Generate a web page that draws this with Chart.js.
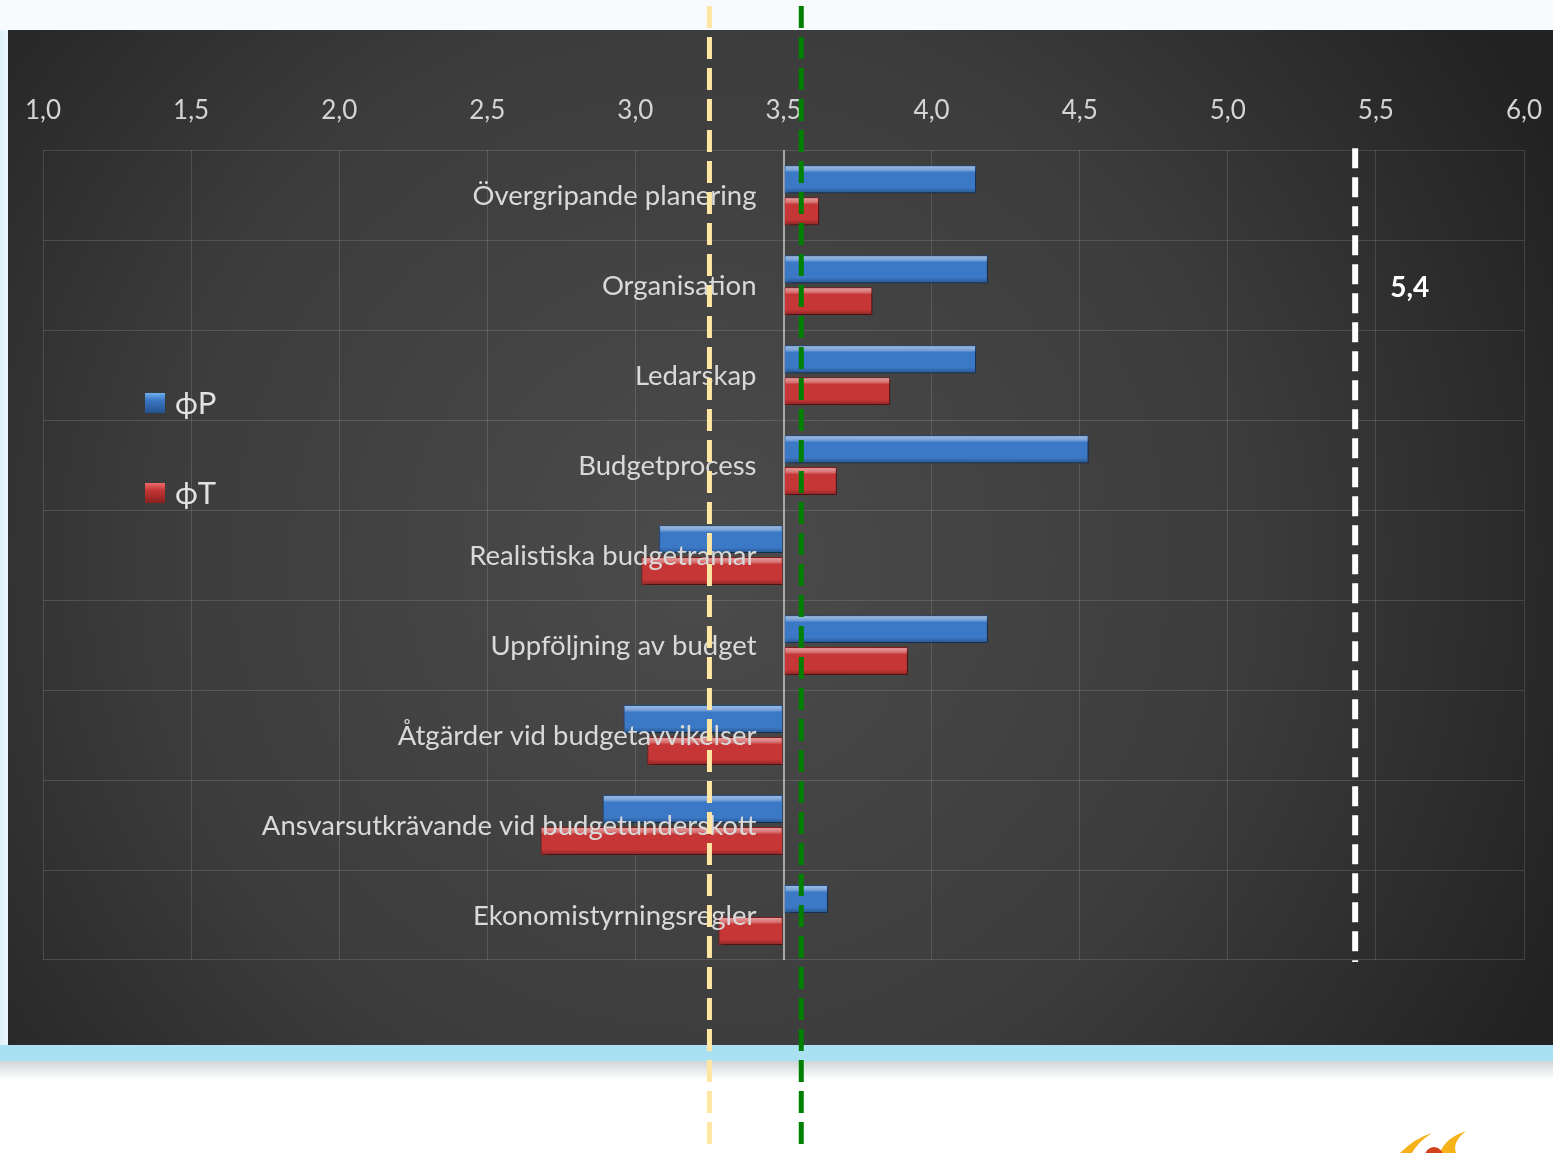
<!DOCTYPE html>
<html><head><meta charset="utf-8">
<script src="https://cdn.jsdelivr.net/npm/chart.js@4"></script>
<style>html,body{margin:0;padding:0;background:#fff;overflow:hidden}#wrap{position:relative;width:1553px;height:1153px}canvas{display:block}</style>
</head><body><div id="wrap"><canvas id="c" width="1553" height="1153"></canvas></div>
<script>
// ---- data ----
const categories = [
  'Övergripande planering',
  'Organisation',
  'Ledarskap',
  'Budgetprocess',
  'Realistiska budgetramar',
  'Uppföljning av budget',
  'Åtgärder vid budgetavvikelser',
  'Ansvarsutkrävande vid budgetunderskott',
  'Ekonomistyrningsregler'
];
const seriesNames = ['ϕP', 'ϕT'];
const seriesP = [4.15, 4.19, 4.15, 4.53, 3.08, 4.19, 2.96, 2.89, 3.65];
const seriesT = [3.62, 3.80, 3.86, 3.68, 3.02, 3.92, 3.04, 2.68, 3.28];
const xTickLabels = ['1,0','1,5','2,0','2,5','3,0','3,5','4,0','4,5','5,0','5,5','6,0'];
const barBase = 3.5;
const referenceValues = [3.25, 3.56, 5.43];
const referenceLabel = '5,4';

// ---- styles ----
const FONT = 'Lato, "Open Sans", sans-serif';
const seriesColors = ['#3b78c6', '#c63636'];
const seriesBorders = ['#24528f', '#8a1f1f'];

const backgroundPlugin = {
  id: 'bg',
  beforeDraw(chart) {
    const ctx = chart.ctx, W = chart.width, H = chart.height;
    ctx.save();
    ctx.fillStyle = '#f7fbfe';
    ctx.fillRect(0, 0, W, H);
    const lg = ctx.createLinearGradient(0, 0, 8, 0);
    lg.addColorStop(0, '#dff1fb'); lg.addColorStop(1, '#ecf7fd');
    ctx.fillStyle = lg; ctx.fillRect(0, 30, 8, 1015);
    const rg = ctx.createRadialGradient(700, 560, 50, 700, 560, 950);
    rg.addColorStop(0, '#4a4a4a');
    rg.addColorStop(0.55, '#3c3c3c');
    rg.addColorStop(1, '#222222');
    ctx.fillStyle = rg; ctx.fillRect(8, 30, W - 8, 1015);
    ctx.fillStyle = '#a9e1f3'; ctx.fillRect(0, 1045, W, 16);
    const bg = ctx.createLinearGradient(0, 1061, 0, 1080);
    bg.addColorStop(0, '#cfd6d8'); bg.addColorStop(1, '#ffffff');
    ctx.fillStyle = bg; ctx.fillRect(0, 1061, W, 19);
    ctx.fillStyle = '#ffffff'; ctx.fillRect(0, 1080, W, H - 1080);
    ctx.fillStyle = '#f5b21a';
    ctx.beginPath(); ctx.moveTo(1400, 1153); ctx.quadraticCurveTo(1415, 1138, 1432, 1133); ctx.quadraticCurveTo(1418, 1142, 1412, 1153); ctx.fill();
    ctx.beginPath(); ctx.moveTo(1440, 1153); ctx.quadraticCurveTo(1445, 1138, 1466, 1131); ctx.quadraticCurveTo(1452, 1142, 1456, 1153); ctx.fill();
    ctx.fillStyle = '#d2401c';
    ctx.beginPath(); ctx.arc(1434, 1156, 9, 0, Math.PI * 2); ctx.fill();
    ctx.restore();
  }
};

const barFxPlugin = {
  id: 'barfx',
  beforeDatasetsDraw(chart) {
    const ctx = chart.ctx;
    ctx.save();
    ctx.shadowColor = 'rgba(0,0,0,0.55)';
    ctx.shadowBlur = 6;
    ctx.shadowOffsetX = 3;
    ctx.shadowOffsetY = 3;
  },
  afterDatasetsDraw(chart) {
    const ctx = chart.ctx;
    ctx.restore();
    ctx.save();
    chart.data.datasets.forEach((ds, di) => {
      const meta = chart.getDatasetMeta(di);
      meta.data.forEach(el => {
        const p = el.getProps(['x', 'y', 'base', 'height'], true);
        const left = Math.min(p.x, p.base), w = Math.abs(p.x - p.base);
        const top = p.y - p.height / 2, h = p.height;
        const g = ctx.createLinearGradient(0, top, 0, top + h);
        g.addColorStop(0, 'rgba(255,255,255,0.55)');
        g.addColorStop(0.18, 'rgba(255,255,255,0.30)');
        g.addColorStop(0.26, 'rgba(255,255,255,0.0)');
        g.addColorStop(0.8, 'rgba(0,0,0,0.0)');
        g.addColorStop(1, 'rgba(0,0,0,0.30)');
        ctx.fillStyle = g;
        ctx.fillRect(left + 1, top + 1, w - 2, h - 2);
      });
    });
    ctx.restore();
  }
};

const overlayPlugin = {
  id: 'overlay',
  afterDraw(chart) {
    const ctx = chart.ctx, xs = chart.scales.x, ys = chart.scales.y, ca = chart.chartArea;
    ctx.save();
    ctx.font = '27.5px ' + FONT;
    ctx.fillStyle = '#d9d9d9';
    ctx.textAlign = 'right';
    ctx.textBaseline = 'middle';
    const labelRight = xs.getPixelForValue(barBase) - 27;
    chart.data.labels.forEach((lab, i) => {
      ctx.fillText(lab, labelRight, ys.getPixelForValue(i) + 1);
    });
    chart.data.datasets.forEach((ds, di) => {
      const cy = 403 + di * 90;
      const g = ctx.createLinearGradient(0, cy - 10, 0, cy + 10);
      g.addColorStop(0, di === 0 ? '#6fb0f0' : '#ee6b6b');
      g.addColorStop(0.35, ds.backgroundColor);
      g.addColorStop(1, ds.borderColor);
      ctx.fillStyle = g;
      ctx.fillRect(145, cy - 10, 20, 20);
      ctx.font = '31px ' + FONT;
      ctx.fillStyle = '#e2e2e2';
      ctx.textAlign = 'left';
      ctx.fillText(ds.label, 175, cy + 1);
    });
    const xw = xs.getPixelForValue(referenceValues[2]);
    ctx.strokeStyle = '#ffffff';
    ctx.lineWidth = 6;
    ctx.setLineDash([20, 9]);
    ctx.beginPath(); ctx.moveTo(xw, ca.top - 2); ctx.lineTo(xw, ca.bottom + 2); ctx.stroke();
    ctx.setLineDash([]);
    ctx.font = 'bold 28px ' + FONT;
    ctx.fillStyle = '#ffffff';
    ctx.textAlign = 'left';
    ctx.fillText(referenceLabel, xw + 35, ys.getPixelForValue(1) + 3);
    const xy = xs.getPixelForValue(referenceValues[0]);
    ctx.strokeStyle = '#ffe6a3';
    ctx.lineWidth = 5;
    ctx.setLineDash([22, 9]);
    ctx.beginPath(); ctx.moveTo(xy, 6); ctx.lineTo(xy, chart.height); ctx.stroke();
    const xg = xs.getPixelForValue(referenceValues[1]);
    ctx.strokeStyle = '#008000';
    ctx.beginPath(); ctx.moveTo(xg, 6); ctx.lineTo(xg, chart.height); ctx.stroke();
    ctx.restore();
  }
};

Chart.defaults.font.family = FONT;

new Chart(document.getElementById('c'), {
  type: 'bar',
  data: {
    labels: categories,
    datasets: [
      { label: seriesNames[0], data: seriesP, base: barBase,
        backgroundColor: seriesColors[0], borderColor: seriesBorders[0], borderWidth: 1,
        categoryPercentage: 0.71, barPercentage: 0.875 },
      { label: seriesNames[1], data: seriesT, base: barBase,
        backgroundColor: seriesColors[1], borderColor: seriesBorders[1], borderWidth: 1,
        categoryPercentage: 0.71, barPercentage: 0.875 }
    ]
  },
  options: {
    indexAxis: 'y',
    responsive: false,
    animation: false,
    devicePixelRatio: 1,
    layout: { padding: { left: 43, right: 29, top: 71, bottom: 193 } },
    plugins: { legend: { display: false }, tooltip: { enabled: false } },
    scales: {
      x: {
        type: 'linear', position: 'top', min: 1, max: 6,
        ticks: { stepSize: 0.5, callback: (v, i) => xTickLabels[i], color: '#d4d4d4',
                 font: { size: 26 }, padding: 24, maxRotation: 0, autoSkip: false },
        grid: {
          drawTicks: false,
          color: c => (c.tick && Math.abs(c.tick.value - barBase) < 1e-9) ? '#a8a8a8' : 'rgba(255,255,255,0.13)',
          lineWidth: c => (c.tick && Math.abs(c.tick.value - barBase) < 1e-9) ? 2 : 1
        },
        border: { display: false },
        afterFit: s => { s.paddingLeft = 0; s.paddingRight = 0; }
      },
      y: {
        type: 'category',
        ticks: { display: false },
        grid: { drawTicks: false, offset: true, color: 'rgba(255,255,255,0.13)' },
        border: { display: false },
        afterFit: s => { s.width = 0; }
      }
    }
  },
  plugins: [backgroundPlugin, barFxPlugin, overlayPlugin]
});
</script>
</body></html>
